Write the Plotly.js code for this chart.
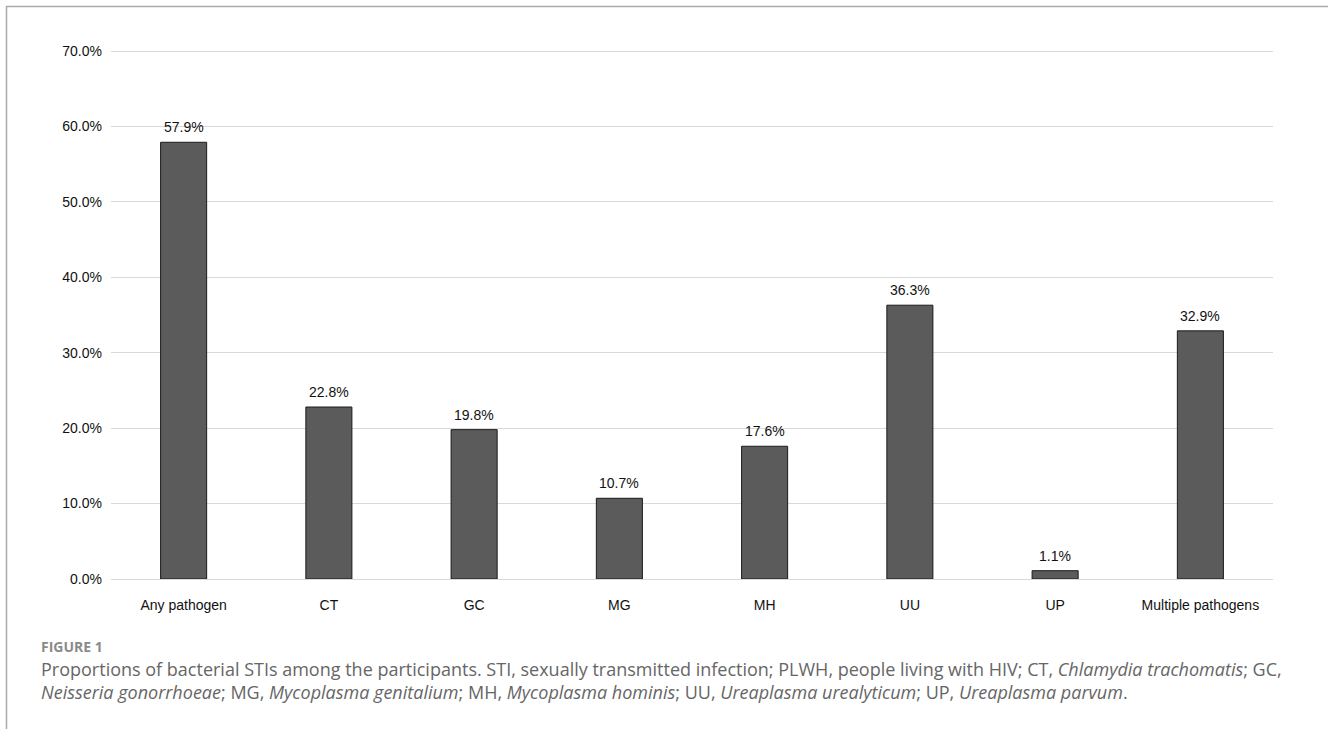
<!DOCTYPE html>
<html>
<head>
<meta charset="utf-8">
<script src="https://cdn.plot.ly/plotly-3.0.1.min.js"></script>
<style>html,body{margin:0;padding:0;background:#fff;} #chart{width:1328px;height:729px;}</style>
</head>
<body>
<div id="chart"></div>
<script>
const categories = ["Any pathogen", "CT", "GC", "MG", "MH", "UU", "UP", "Multiple pathogens"];
const proportions = [57.9, 22.8, 19.8, 10.7, 17.6, 36.3, 1.1, 32.9];
const yTicks = [0, 10, 20, 30, 40, 50, 60, 70];
const figureLabel = "FIGURE 1";
const captionLine1 = "Proportions of bacterial STIs among the participants. STI, sexually transmitted infection; PLWH, people living with HIV; CT, <i>Chlamydia trachomatis</i>; GC,";
const captionLine2 = "<i>Neisseria gonorrhoeae</i>; MG, <i>Mycoplasma genitalium</i>; MH, <i>Mycoplasma hominis</i>; UU, <i>Ureaplasma urealyticum</i>; UP, <i>Ureaplasma parvum</i>.";

const L = 111, R = 1273, T = 49, B = 579, W = 1328, H = 729;
const px = x => (x - L) / (R - L);
const py = y => (B - y) / (B - T);
const chartFont = 'Liberation Sans, Arial, sans-serif';
const capFont = 'Open Sans, Noto Sans, sans-serif';
const yMax = 70 * (B - T) / (B - 51);

const trace = {
  type: 'bar',
  x: categories,
  y: proportions,
  marker: {color: '#5b5b5b', line: {color: '#1a1a1a', width: 1}},
  hoverinfo: 'skip'
};

const valueLabels = categories.map((c, i) => ({
  xref: 'x', yref: 'y', x: c, y: proportions[i], yanchor: 'middle', yshift: 15,
  showarrow: false, text: proportions[i].toFixed(1) + '%',
  font: {family: chartFont, size: 14, color: '#111'}
}));

const layout = {
  width: W, height: H,
  margin: {l: L, r: W - R, t: T, b: H - B},
  paper_bgcolor: '#fff', plot_bgcolor: '#fff',
  bargap: 0.683,
  showlegend: false,
  font: {family: chartFont, size: 14, color: '#111'},
  xaxis: {
    type: 'category', showline: false, ticks: '', showgrid: false, zeroline: false,
    ticklabelstandoff: 16,
    tickfont: {size: 14, color: '#111'}
  },
  yaxis: {
    range: [0, yMax], tickvals: yTicks, ticktext: yTicks.map(v => v.toFixed(1) + '%'),
    showgrid: true, gridcolor: '#d9d9d9', gridwidth: 1, zeroline: true, zerolinecolor: '#d9d9d9', zerolinewidth: 1,
    showline: false, ticks: '', ticklabelstandoff: 8,
    tickfont: {size: 14, color: '#111'}
  },
  shapes: [
    {type: 'line', xref: 'paper', yref: 'paper', x0: px(6), x1: px(1328), y0: py(6.5), y1: py(6.5), line: {color: '#aaaaaa', width: 1.5}},
    {type: 'line', xref: 'paper', yref: 'paper', x0: px(6.5), x1: px(6.5), y0: py(6), y1: py(729), line: {color: '#aaaaaa', width: 1.5}}
  ],
  annotations: valueLabels.concat([
    {xref: 'paper', yref: 'paper', x: px(39), y: py(646), xanchor: 'left', yanchor: 'middle', showarrow: false,
     text: '<b>' + figureLabel + '</b>', font: {family: capFont, size: 14, color: '#8a8a8a'}},
    {xref: 'paper', yref: 'paper', x: px(39), y: py(669), xanchor: 'left', yanchor: 'middle', showarrow: false,
     text: captionLine1, font: {family: capFont, size: 18, color: '#666'}},
    {xref: 'paper', yref: 'paper', x: px(39), y: py(692), xanchor: 'left', yanchor: 'middle', showarrow: false,
     text: captionLine2, font: {family: capFont, size: 18, color: '#666'}}
  ])
};

Plotly.newPlot('chart', [trace], layout, {displayModeBar: false, staticPlot: true});
</script>
</body>
</html>
